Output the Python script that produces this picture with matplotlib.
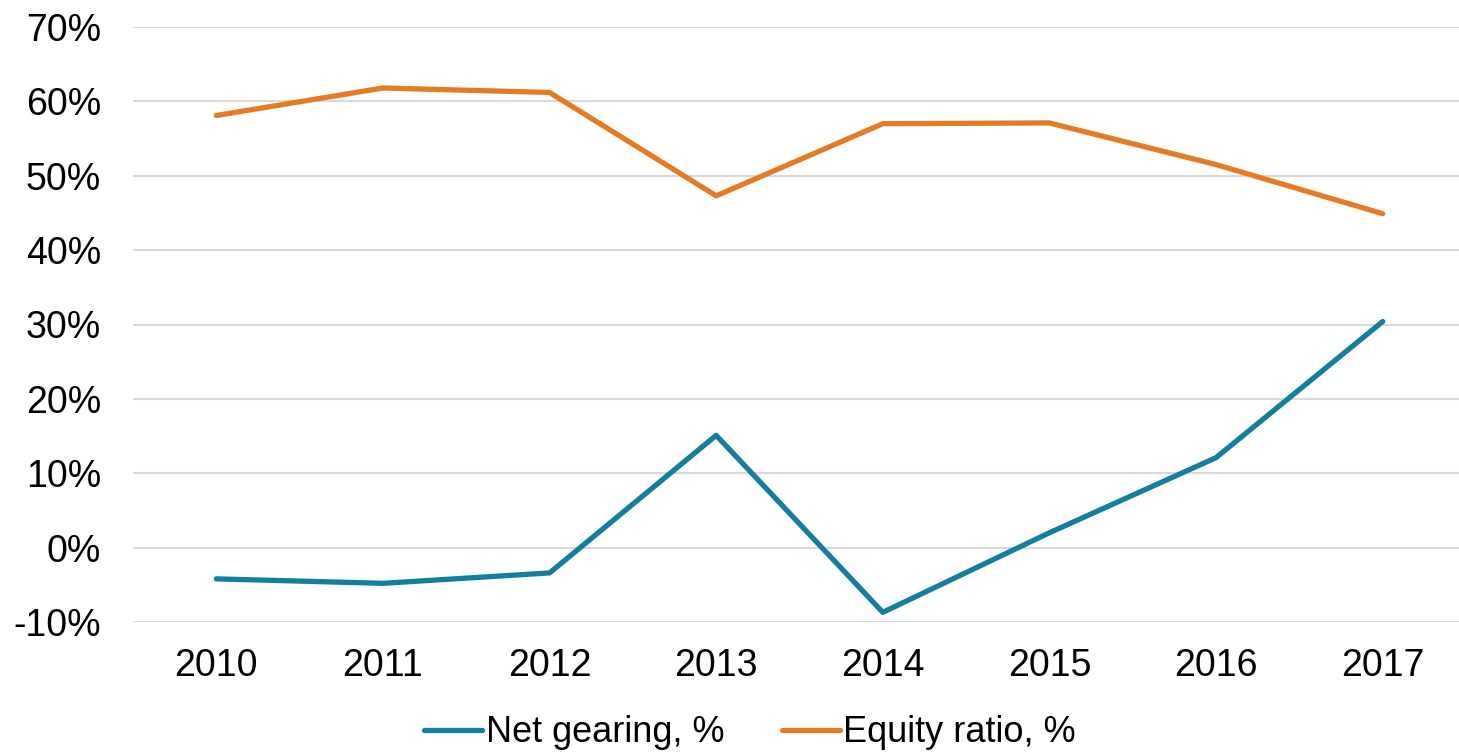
import matplotlib.pyplot as plt
from matplotlib.ticker import FuncFormatter

years = ["2010", "2011", "2012", "2013", "2014", "2015", "2016", "2017"]
net_gearing = [-4.2, -4.8, -3.4, 15.1, -8.7, 2.0, 12.1, 30.4]
equity_ratio = [58.1, 61.8, 61.2, 47.3, 57.0, 57.1, 51.5, 44.9]

plt.rcParams['font.family'] = ['Liberation Sans', 'DejaVu Sans']

fig = plt.figure(figsize=(14.59, 7.52), dpi=100)
ax = fig.add_axes([133 / 1459, 130 / 752, 1 - 133 / 1459, 595 / 752])

x = list(range(len(years)))
ax.plot(x, net_gearing, color='#137f9d', lw=3.8, solid_capstyle='round',
        label='Net gearing, %')
ax.plot(x, equity_ratio, color='#e57b25', lw=3.8, solid_capstyle='round',
        label='Equity ratio, %')

ax.set_ylim(-10, 70)
ax.set_yticks(range(-10, 71, 10))
ax.yaxis.set_major_formatter(FuncFormatter(lambda v, _: f'{v:.0f}%'))
ax.set_xlim(-0.5, 7.5 - 7 / 166.7)
ax.set_xticks(x)
ax.set_xticklabels(years)

ax.grid(axis='y', color='#d9d9d9', lw=1.5)
ax.set_axisbelow(True)
for s in ax.spines.values():
    s.set_visible(False)
ax.tick_params(axis='y', length=0, pad=23, labelsize=27)
ax.tick_params(axis='x', length=0, pad=19, labelsize=27)

fig.legend(loc='center', bbox_to_anchor=(750 / 1459, 19 / 752), ncol=2,
           frameon=False, fontsize=26, handlelength=1.6, handletextpad=0.1,
           columnspacing=1.6)

fig.savefig('out.png', dpi=100)
